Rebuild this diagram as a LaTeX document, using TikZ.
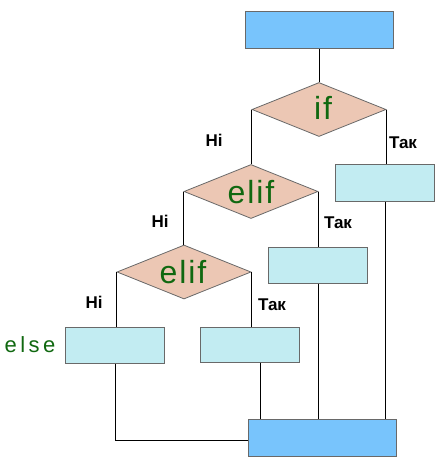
\documentclass[tikz,border=0pt]{standalone}
\usepackage{fontspec}
\setmainfont{Liberation Sans}
\newfontfamily\kwfont[LetterSpace=6]{Liberation Sans}
\newfontfamily\elsefont[LetterSpace=16]{Liberation Sans}
\usetikzlibrary{shapes.geometric}
\definecolor{termblue}{RGB}{120,196,252}
\definecolor{procblue}{RGB}{194,236,242}
\definecolor{decpeach}{RGB}{236,199,180}
\definecolor{kwgreen}{RGB}{16,104,16}
\definecolor{edgegray}{RGB}{105,105,105}
\tikzset{
  term/.style={draw=edgegray, line width=1pt, fill=termblue, minimum width=148pt, minimum height=37pt, inner sep=0pt},
  proc/.style={draw=edgegray, line width=1pt, fill=procblue, minimum width=99pt, minimum height=36pt, inner sep=0pt},
  dec/.style={diamond, draw=edgegray, line width=0.8pt, fill=decpeach, minimum width=134pt, minimum height=54pt, inner sep=0pt},
  kw/.style={text=kwgreen, font=\kwfont\fontsize{32}{32}\selectfont, inner sep=0pt},
  yn/.style={font=\bfseries\fontsize{17}{17}\selectfont, inner sep=0pt},
  conn/.style={draw=black, line width=1pt}
}
\begin{document}
\begin{tikzpicture}[x=1pt,y=-1pt]
\useasboundingbox (0,0) rectangle (443,474);
% terminals
\node[term] (top) at (319,30) {};
\node[term] (bot) at (322,438) {};
% decisions
\node[dec] (if) at (319,109.5) {};
\node[dec] (e1) at (251,191.5) {};
\node[dec] (e2) at (184,272) {};
\node[kw] (tif) at (323,108) {if};
\node[kw] (te1) at (251,192) {elif};
\node[kw] (te2) at (183,272) {elif};
% processes
\node[proc, minimum height=37pt] (p1) at (385,182.5) {};
\node[proc] (p2) at (318,265) {};
\node[proc, minimum height=35pt] (p3) at (249.5,344.5) {};
\node[proc] (pe) at (115,345) {};
\node[text=kwgreen, font=\elsefont\fontsize{22}{22}\selectfont, inner sep=0pt] (telse) at (30,345) {else};
% connectors
\draw[conn] (top.south) -- (if.north);
\draw[conn] (if.west) -- (if.west |- e1.north);
\draw[conn] (if.east) -- (if.east |- p1.north);
\draw[conn] (e1.west) -- (e1.west |- e2.north);
\draw[conn] (e1.east) -- (e1.east |- p2.north);
\draw[conn] (e2.west) -- (e2.west |- pe.north);
\draw[conn] (e2.east) -- (e2.east |- p3.north);
\coordinate (p3out) at ([xshift=11pt]p3.south);
\draw[conn] (p1.south) -- (p1.south |- bot.north);
\draw[conn] (p2.south) -- (p2.south |- bot.north);
\draw[conn] (p3out) -- (p3out |- bot.north);
\draw[conn] (pe.south) |- ([yshift=-2pt]bot.west);
% labels
\node[yn] (n1) at (214,140) {Ні};
\node[yn] (y1) at (403,143) {Так};
\node[yn] (n2) at (160,221) {Ні};
\node[yn] (y2) at (338,223) {Так};
\node[yn] (n3) at (94,302) {Ні};
\node[yn] (y3) at (272,305) {Так};
\end{tikzpicture}
\end{document}
